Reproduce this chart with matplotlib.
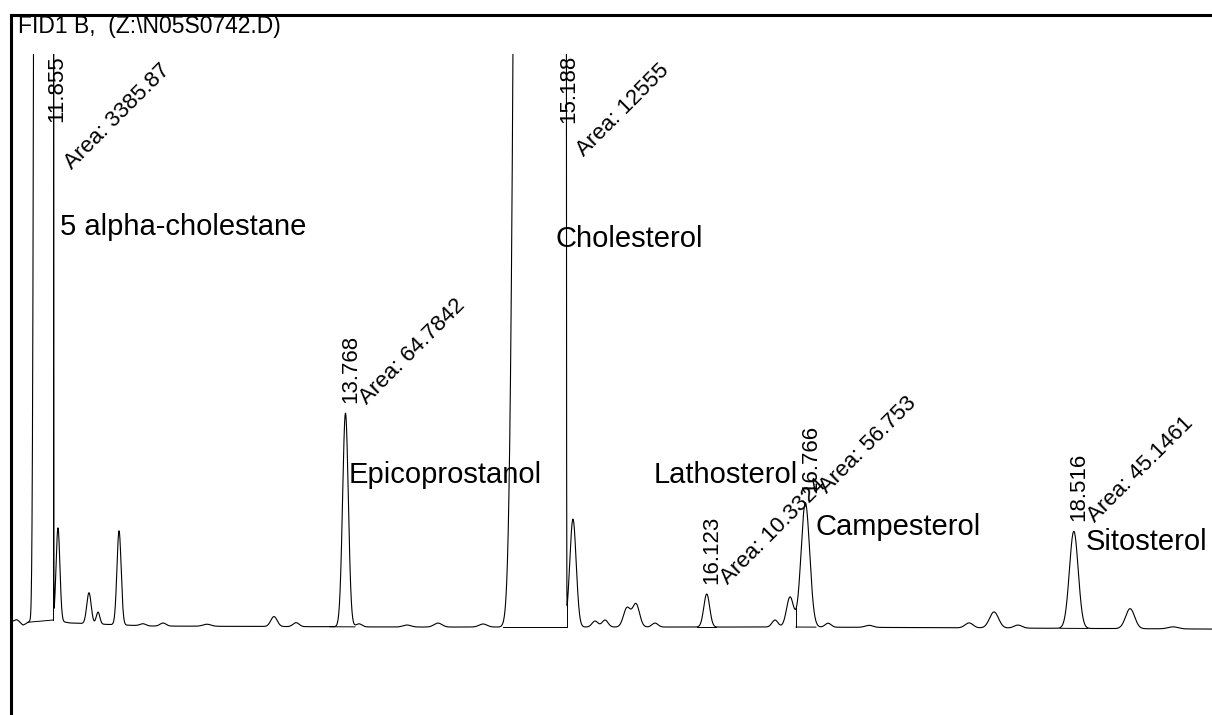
import numpy as np
import matplotlib
matplotlib.use("Agg")
import matplotlib.pyplot as plt
from math import gamma

plt.rcParams["font.family"] = ["Liberation Sans", "DejaVu Sans"]

# ---- integrated peaks -------------------------------------------------
peak_rt = [11.855, 13.768, 15.188, 16.123, 16.766, 18.516]          # min
peak_area = [3385.87, 64.7842, 12555.0, 10.3324, 56.753, 45.1461]   # pA*s
peak_sigma_lead = [6.06, 1.115, 15.06, 1.15, 1.68, 1.71]            # s
peak_sigma_tail = [0.575, 1.115, 0.93, 1.15, 1.68, 1.71]            # s
peak_shape = [8, 2, 6, 2, 2, 2]                                     # 2 = Gaussian
compound_names = ["5 alpha-cholestane", "Epicoprostanol", "Cholesterol",
                  "Lathosterol", "Campesterol", "Sitosterol"]

# integration events (min)
integ_start = [11.699, 13.667, 14.795, 16.060, 16.705, 18.426]
integ_end = [11.8615, 13.830, 15.212, 16.184, 16.835, 18.609]
drop_start = [False, False, False, False, True, False]
drop_end = [True, False, True, False, False, False]

# ---- minor, unlabeled peaks ---------------------------------------------
minor_rt = [11.627, 11.894, 12.096, 12.155, 12.292, 12.448, 12.579, 12.865,
            13.302, 13.446, 13.856, 14.169, 14.371, 14.665, 15.251, 15.395,
            15.460, 15.603, 15.662, 15.786, 16.568, 16.666, 16.914, 17.181,
            17.833, 17.996, 18.152, 18.883, 19.163]
minor_height = [0.43, 10.09, 3.36, 1.30, 10.20, 0.22, 0.33, 0.22,
                1.08, 0.43, 0.33, 0.22, 0.43, 0.33, 11.70, 0.65,
                0.76, 2.06, 2.49, 0.43, 0.76, 3.25, 0.43, 0.22,
                0.54, 1.74, 0.33, 2.17, 0.22]                      # pA
minor_sigma = [1.17, 0.74, 0.86, 0.70, 0.82, 1.17, 1.17, 1.56,
               1.25, 1.17, 1.17, 1.56, 1.56, 1.56, 1.25, 1.17,
               1.17, 1.37, 1.37, 1.17, 1.17, 1.37, 1.17, 1.56,
               1.56, 1.76, 1.56, 1.76, 1.96]                       # s

# ---- baseline drift -------------------------------------------------------
drift_t = [11.594, 11.666, 11.712, 11.8615, 11.972, 12.494, 14.124, 16.731, 19.417]
drift_level = [0.40, 0.05, 0.55, 0.65, 0.33, 0.0, -0.11, -0.11, -0.33]

# label anchor points for the compound names (min, pA)
name_pos = [(11.907, 42.4), (13.791, 15.5), (15.134, 41.1),
            (15.779, 15.5), (16.829, 9.9), (18.596, 8.2)]

T_MIN, T_MAX = 11.5942, 19.4168
Y_MIN, Y_MAX = -9.65, 62.04


def baseline(t):
    return np.interp(t, drift_t, drift_level)


def peak_profile(t, rt, area, s_lead, s_tail, p):
    norm = (s_lead + s_tail) * 2 ** (1.0 / p) * gamma(1.0 + 1.0 / p)
    height = area / norm
    dt = (np.asarray(t) - rt) * 60.0
    s = np.where(dt < 0, s_lead, s_tail)
    return height * np.exp(-0.5 * np.abs(dt / s) ** p), height


def signal(t):
    y = baseline(t)
    for rt, a, sl, st, p in zip(peak_rt, peak_area, peak_sigma_lead,
                                peak_sigma_tail, peak_shape):
        y = y + peak_profile(t, rt, a, sl, st, p)[0]
    for rt, h, s in zip(minor_rt, minor_height, minor_sigma):
        y = y + h * np.exp(-0.5 * ((np.asarray(t) - rt) * 60.0 / s) ** 2)
    return y


W, H = 1212, 715
fig = plt.figure(figsize=(W / 100, H / 100), dpi=100)

# outer frame: top and left rules only
frame = fig.add_axes([11 / W, 0, 1 - 11 / W, (H - 15) / H])
frame.set_xticks([])
frame.set_yticks([])
frame.patch.set_visible(False)
for side in ("right", "bottom"):
    frame.spines[side].set_visible(False)
for side in ("top", "left"):
    frame.spines[side].set_linewidth(2.2)

fig.text(18 / W, 1 - 33 / H, "FID1 B,  (Z:\\N05S0742.D)", fontsize=16.5,
         ha="left", va="baseline")

# signal axes
ax = fig.add_axes([12 / W, 0, 1 - 12 / W, (H - 54) / H])
ax.set_xlim(T_MIN, T_MAX)
ax.set_ylim(Y_MIN, Y_MAX)
ax.axis("off")

t = np.arange(T_MIN, T_MAX, 0.0004)
y = signal(t)
ax.plot(t, y, color="black", lw=0.8, solid_joinstyle="round")

# integration baselines and drop lines
for ts, te, ds, de in zip(integ_start, integ_end, drop_start, drop_end):
    b0, b1 = baseline(ts), baseline(te)
    ax.plot([ts, te], [b0, b1], color="black", lw=0.7)
    if ds:
        ax.plot([ts, ts], [b0, signal(np.array([ts]))[0]], color="black", lw=0.7)
    if de:
        ax.plot([te, te], [b1, signal(np.array([te]))[0]], color="black", lw=0.7)

# retention time / area labels
for rt, a in zip(peak_rt, peak_area):
    top = signal(np.array([rt]))[0]
    area_txt = f"Area: {a:g}"
    if top > Y_MAX:
        ax.annotate(f"{rt:.3f}", xy=(rt, Y_MAX), xytext=(5, -1),
                    textcoords="offset pixels", rotation=90, ha="center",
                    va="top", fontsize=16, annotation_clip=False)
        ax.annotate(area_txt, xy=(rt, Y_MAX), xytext=(9, -6),
                    textcoords="offset pixels", rotation=45, ha="left",
                    va="top", fontsize=16, annotation_clip=False)
    else:
        ax.annotate(f"{rt:.3f}", xy=(rt, top), xytext=(5, 10),
                    textcoords="offset pixels", rotation=90, ha="center",
                    va="bottom", fontsize=16, annotation_clip=False)
        ax.annotate(area_txt, xy=(rt, top), xytext=(10, 5),
                    textcoords="offset pixels", rotation=45, ha="left",
                    va="bottom", fontsize=16, annotation_clip=False)

for name, (nx, ny) in zip(compound_names, name_pos):
    ax.text(nx, ny, name, fontsize=21, ha="left", va="baseline")

fig.savefig("out.png", dpi=100)
